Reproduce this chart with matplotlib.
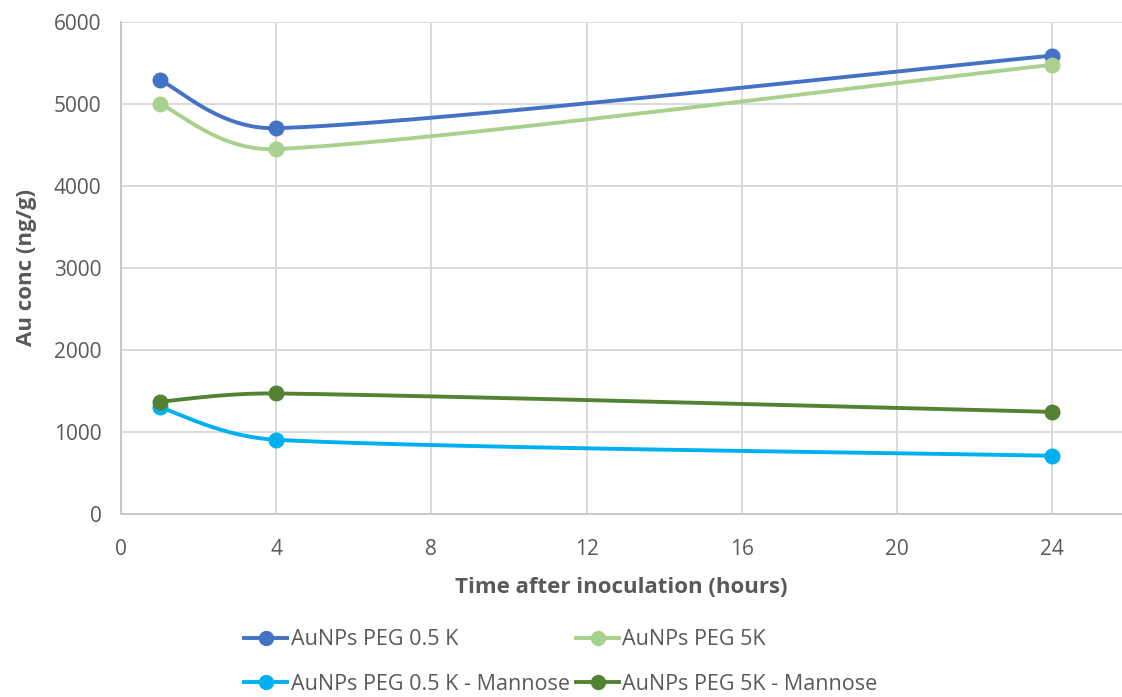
import numpy as np
import matplotlib
matplotlib.use('Agg')
import matplotlib.pyplot as plt
from matplotlib.lines import Line2D

# ── Data ──────────────────────────────────────────────────────────────────────
hours = [1, 4, 24]
peg05 = [5290, 4705, 5590]
peg5 = [5000, 4450, 5478]
peg05_man = [1300, 905, 710]
peg5_man = [1370, 1470, 1245]

labels = ['AuNPs PEG 0.5 K', 'AuNPs PEG 5K',
          'AuNPs PEG 0.5 K - Mannose', 'AuNPs PEG 5K - Mannose']
colors = ['#4472C4', '#A9D18E', '#00B0F0', '#548235']

XMAX = 25.8
YMAX = 6000

plt.rcParams['font.family'] = ['Open Sans', 'DejaVu Sans']

W, H = 1122, 697
fig = plt.figure(figsize=(W / 100, H / 100), dpi=100)
ax = fig.add_axes([121 / W, 1 - 514 / H, (W - 121) / W, (514 - 22) / H])

# px per unit -> smoothing done in screen space, like Excel does
sx = (W - 121) / XMAX
sy = (514 - 22) / YMAX


def excel_smooth(xs, ys, n=80):
    """Smoothed line: Catmull-Rom style Bezier (1/6), handles capped by chord."""
    p = np.column_stack([np.array(xs, float) * sx, np.array(ys, float) * sy])
    k = len(p)
    t = np.linspace(0, 1, n)[:, None]
    out = []
    for i in range(k - 1):
        p1, p2 = p[i], p[i + 1]
        p0 = p[i - 1] if i > 0 else p1
        p3 = p[i + 2] if i + 2 < k else p2
        chord = np.linalg.norm(p2 - p1)
        d1 = (p2 - p0) / 6
        d2 = (p3 - p1) / 6
        cap = 0.45 * chord
        if np.linalg.norm(d1) > cap:
            d1 = d1 / np.linalg.norm(d1) * cap
        if np.linalg.norm(d2) > cap:
            d2 = d2 / np.linalg.norm(d2) * cap
        c1 = p1 + d1
        c2 = p2 - d2
        seg = ((1 - t) ** 3) * p1 + 3 * ((1 - t) ** 2) * t * c1 \
            + 3 * (1 - t) * t ** 2 * c2 + t ** 3 * p2
        out.append(seg)
    out = np.vstack(out)
    return out[:, 0] / sx, out[:, 1] / sy


series = [peg05, peg5, peg05_man, peg5_man]
for vals, color in zip(series, colors):
    cx, cy = excel_smooth(hours, vals)
    ax.plot(cx, cy, color=color, lw=2.8, solid_capstyle='round', zorder=3)
    ax.plot(hours, vals, 'o', color=color, ms=10.5, zorder=4)

ax.set_xlim(0, XMAX)
ax.set_ylim(0, YMAX)
ax.set_xticks(range(0, 25, 4))
ax.set_yticks(range(0, 6001, 1000))
ax.grid(color='#d9d9d9', lw=1.4)
ax.set_axisbelow(True)
for side in ['top', 'right']:
    ax.spines[side].set_visible(False)
for side in ['left', 'bottom']:
    ax.spines[side].set_color('#c8c8c8')
    ax.spines[side].set_linewidth(1.4)
ax.tick_params(length=0, labelsize=15, labelcolor='#595959')
ax.tick_params(axis='x', pad=18)
ax.tick_params(axis='y', pad=14)

ax.set_xlabel('Time after inoculation (hours)', fontsize=16, fontweight='bold',
              color='#595959', labelpad=12)
ax.set_ylabel('Au conc (ng/g)', fontsize=16, fontweight='bold',
              color='#595959', labelpad=12)

# legend filled row by row, like the original
order = [0, 2, 1, 3]
handles = [Line2D([0], [0], color=colors[i], lw=2.8, marker='o', ms=10)
           for i in order]
fig.legend(handles, [labels[i] for i in order], loc='center',
           bbox_to_anchor=(0.5, 1 - 662 / H), ncol=2, frameon=False,
           fontsize=15.5, labelcolor='#595959', handlelength=2.0,
           handletextpad=0.15, columnspacing=0.3, labelspacing=1.1)

fig.savefig('out.png', dpi=100)
